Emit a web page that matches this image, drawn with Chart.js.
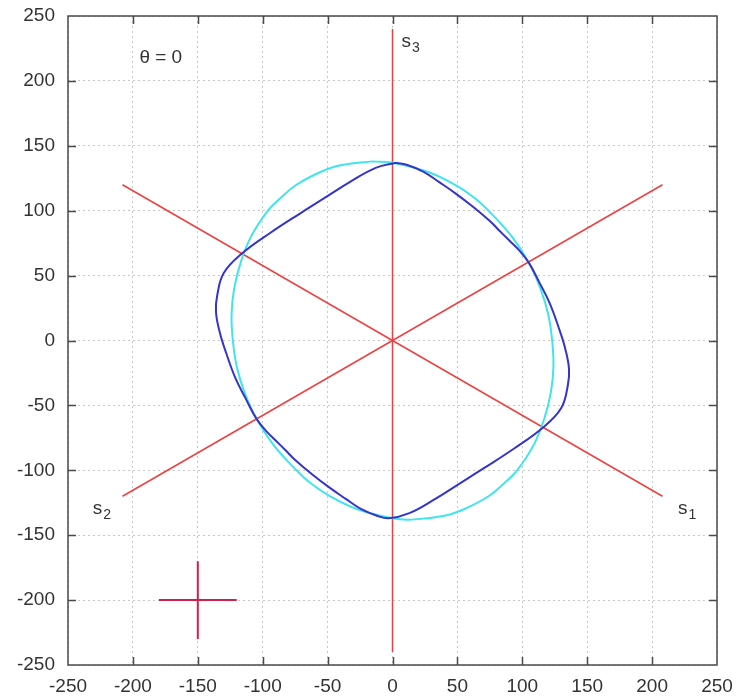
<!DOCTYPE html>
<html>
<head>
<meta charset="utf-8">
<title>theta = 0</title>
<script src="https://cdn.jsdelivr.net/npm/chart.js@4.4.1/dist/chart.umd.min.js"></script>
<style>
  html, body { margin: 0; padding: 0; background: #fff; }
  canvas { display: block; }
</style>
</head>
<body>
<canvas id="chart" width="740" height="699"></canvas>
<script>
// axis range, both axes the same
const axisMin = -250, axisMax = 250, tickStep = 50;

// blue curve, counter-clockwise from the top
const blueX = [3, -13, -33, -52, -71, -94, -116, -130, -135, -136, -133, -128, -121, -113, -105, -98, -90, -82, -75, -62, -49, -36, -24, -12, -3,
               13, 33, 52, 71, 94, 116, 130, 135, 136, 133, 128, 121, 113, 105, 98, 90, 82, 75, 62, 49, 36, 24, 12];
const blueY = [137, 133, 122, 110, 98, 83, 67, 52, 35, 22, 6, -10, -29, -45, -60, -69, -77, -85, -92, -103, -113, -122, -130, -135, -137,
               -133, -122, -110, -98, -83, -67, -52, -35, -22, -6, 10, 29, 45, 60, 69, 77, 85, 92, 103, 113, 122, 130, 135];

// cyan curve
const cyanX = [-15, -40, -55, -74, -86, -96, -109, -117, -122, -124, -123, -120, -114, -105, -92, -74, -63, -48, -27, 0,
               15, 40, 55, 74, 86, 96, 109, 117, 122, 124, 123, 120, 114, 105, 92, 74, 63, 48, 27, 0];
const cyanY = [138, 135, 130, 120, 110, 100, 80, 60, 40, 20, 0, -20, -40, -60, -80, -100, -110, -120, -130, -137,
               -138, -135, -130, -120, -110, -100, -80, -60, -40, -20, 0, 20, 40, 60, 80, 100, 110, 120, 130, 137];

// the three red axes s1, s2, s3 (end points)
const s1X = [-208, 208], s1Y = [120, -120];
const s2X = [208, -208], s2Y = [120, -120];
const s3X = [0, 0],      s3Y = [240, -240];

// small cross at (-150, -200)
const crossHX = [-180, -120], crossHY = [-200, -200];
const crossVX = [-150, -150], crossVY = [-170, -230];

// text labels, in data units
const labels = [
  { x: -195, y: 214, text: 'θ = 0', sub: '' },
  { x: 7,    y: 226, text: 's', sub: '3' },
  { x: 220,  y: -134, text: 's', sub: '1' },
  { x: -231, y: -134, text: 's', sub: '2' }
];

const pts = (xs, ys, close) => {
  const out = xs.map((x, i) => ({ x: x, y: ys[i] }));
  if (close) out.push(out[0]);
  return out;
};

const FONT = '"Liberation Sans", Arial, Helvetica, sans-serif';

const line = (data, color, width, order, tension) => ({
  data: data, showLine: true, borderColor: color, borderWidth: width,
  pointRadius: 0, tension: tension || 0, order: order, fill: false
});

// frame, inner tick marks and the text
const framePlugin = {
  id: 'frame',
  afterDraw(chart) {
    const { ctx, chartArea: a, scales: { x, y } } = chart;
    ctx.save();
    ctx.strokeStyle = '#4a4a4a';
    ctx.lineWidth = 1.5;
    ctx.strokeRect(a.left, a.top, a.right - a.left, a.bottom - a.top);
    ctx.beginPath();
    for (let v = axisMin + tickStep; v < axisMax; v += tickStep) {
      const px = Math.round(x.getPixelForValue(v)) + 0.5;
      ctx.moveTo(px, a.bottom); ctx.lineTo(px, a.bottom - 8);
      ctx.moveTo(px, a.top); ctx.lineTo(px, a.top + 8);
      const py = Math.round(y.getPixelForValue(v)) + 0.5;
      ctx.moveTo(a.left, py); ctx.lineTo(a.left + 8, py);
      ctx.moveTo(a.right, py); ctx.lineTo(a.right - 8, py);
    }
    ctx.stroke();

    ctx.fillStyle = '#333';
    ctx.textBaseline = 'alphabetic';
    ctx.textAlign = 'left';
    labels.forEach(l => {
      const px = x.getPixelForValue(l.x), py = y.getPixelForValue(l.y);
      ctx.font = '19px ' + FONT;
      ctx.fillText(l.text, px, py);
      if (l.sub) {
        const w = ctx.measureText(l.text).width;
        ctx.font = '14px ' + FONT;
        ctx.fillText(l.sub, px + w + 1, py + 5);
      }
    });
    ctx.restore();
  }
};

const noPad = s => { s.paddingTop = 0; s.paddingBottom = 0; s.paddingLeft = 0; s.paddingRight = 0; };

const axis = (extra, pad) => Object.assign({
  type: 'linear', min: axisMin, max: axisMax,
  grid: { color: '#c8c8c8', lineWidth: 1, drawTicks: false },
  border: { display: false, dash: [2, 3] },
  ticks: { stepSize: tickStep, color: '#333', font: { family: FONT, size: 19 }, autoSkip: false, maxRotation: 0, padding: pad }
}, extra);

const xAxis = axis({ position: 'bottom', afterFit: s => { s.height = 34; noPad(s); } }, 10);
const yAxis = axis({ position: 'left', afterFit: s => { s.width = 68; noPad(s); } }, 13);

new Chart(document.getElementById('chart'), {
  type: 'scatter',
  data: {
    datasets: [
      line(pts(blueX, blueY, true), '#3535c8', 2, 0, 0.4),
      line(pts(cyanX, cyanY, true), '#40e4f0', 2, 1, 0.4),
      line(pts(s1X, s1Y), '#ee4040', 1.5, 2),
      line(pts(s2X, s2Y), '#ee4040', 1.5, 2),
      line(pts(s3X, s3Y), '#ee4040', 1.5, 2),
      line(pts(crossHX, crossHY), '#d0204c', 2, 3),
      line(pts(crossVX, crossVY), '#d0204c', 2, 3)
    ]
  },
  options: {
    responsive: false,
    animation: false,
    layout: { padding: { left: 0, right: 23, top: 16, bottom: 0 } },
    plugins: { legend: { display: false }, tooltip: { enabled: false } },
    scales: { x: xAxis, y: yAxis }
  },
  plugins: [framePlugin]
});
</script>
</body>
</html>
